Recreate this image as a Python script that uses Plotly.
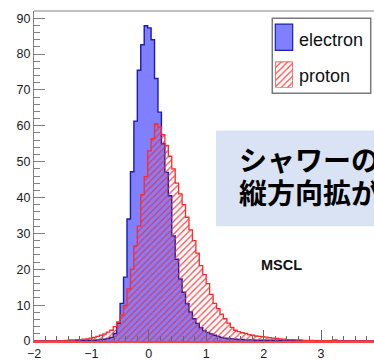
import plotly.graph_objects as go

# Histogram binning: 100 bins of width 0.06 spanning MSCL = -2 .. 4
BIN_LO = -2.0
BIN_W = 0.06

electron = [
    0, 0, 0, 0, 0, 0, 0, 0, 0, 0, 0, 0,
    0.2, 0.2, 0.2, 0.2, 0.2, 0.2, 0.3, 0.4, 0.5, 0.7,
    1.0, 2.1, 4.9, 10.5, 17.8, 34.0, 47.2, 61.3, 75.5, 82.6,
    87.9, 87.3, 84.0, 73.2, 63.8, 55.0, 47.0, 40.5, 29.3, 22.8,
    17.3, 13.6, 10.4, 8.1, 6.2, 4.9, 3.7, 2.9, 2.4, 2.0,
    1.6, 1.3, 1.0, 0.8, 0.7, 0.6, 0.5, 0.4, 0.4, 0.3,
    0.3, 0.3, 0.2, 0.2,
    0.2, 0.2, 0.2, 0.2, 0.2, 0.2, 0.2, 0.2, 0.2, 0.2,
    0.1, 0.1, 0.1, 0.1, 0.1,
    0, 0, 0, 0, 0, 0, 0, 0, 0, 0, 0, 0, 0, 0, 0, 0, 0, 0, 0,
]

proton = [
    0, 0, 0, 0, 0, 0, 0, 0, 0,
    0.2, 0.3, 0.3, 0.3, 0.4, 0.5, 0.6, 0.8, 1.0, 1.3, 1.6,
    2.0, 2.5, 3.0, 4.0, 5.3, 7.2, 9.9, 14.5, 20.0, 26.5,
    32.0, 40.8, 45.8, 53.0, 56.4, 60.5, 59.6, 57.5, 54.5, 51.5,
    48.0, 44.0, 41.0, 38.0, 34.5, 31.0, 28.0, 24.5, 21.0, 18.5,
    16.0, 13.0, 10.5, 9.0, 7.5, 6.2, 5.0, 3.8, 3.0, 2.6,
    2.3, 2.1, 1.8, 1.6, 1.4, 1.3, 1.2, 1.1, 0.9, 0.8,
    0.7, 0.6, 0.5, 0.4, 0.4, 0.3, 0.3, 0.3, 0.2, 0.2, 0.2,
    0.1, 0.1, 0.1, 0.1, 0.1, 0.1, 0.3,
    0, 0, 0, 0, 0, 0, 0, 0, 0, 0, 0, 0,
]

series_names = ["electron", "proton"]
variable_label = "MSCL"
title_lines = ["シャワーの", "縦方向拡がり"]

edges = [BIN_LO + BIN_W * i for i in range(len(electron) + 1)]

# Figure geometry (pixels)
W, H = 374, 361
L, R, T, B = 34, 0, 11, 17
PW, PH = W - L - R, H - T - B


def px(x):
    return (x - L) / PW


def py(y):
    return (H - B - y) / PH


BLUE_FILL = "#7f7fff"
BLUE_LINE = "#1c1cb0"
RED = "#ff2a2a"
HATCH = dict(shape="/", fgcolor="rgba(255,40,40,0.85)", bgcolor="rgba(0,0,0,0)",
             size=4.5, solidity=0.28, fillmode="replace")

fig = go.Figure()

# electron: filled step histogram
fig.add_trace(go.Scatter(
    x=edges, y=electron + [electron[-1]], mode="lines", name=series_names[0],
    line=dict(shape="hv", color=BLUE_LINE, width=1.4),
    fill="tozeroy", fillcolor=BLUE_FILL, showlegend=False, hoverinfo="skip",
))

# proton: hatched step histogram
fig.add_trace(go.Scatter(
    x=edges, y=proton + [proton[-1]], mode="lines", name=series_names[1],
    line=dict(shape="hv", color=RED, width=1.3),
    fill="tozeroy", fillpattern=HATCH, fillcolor="rgba(0,0,0,0)",
    showlegend=False, hoverinfo="skip",
))

# hatched legend swatch lives on its own tiny overlay axes
fig.add_trace(go.Scatter(
    x=[0, 0, 1, 1, 0], y=[0, 1, 1, 0, 0], mode="lines", xaxis="x2", yaxis="y2",
    line=dict(color=RED, width=1.2), fill="toself", fillpattern=HATCH,
    fillcolor="rgba(0,0,0,0)", showlegend=False, hoverinfo="skip",
))

tickfont = dict(family="Liberation Sans, Arial, sans-serif", size=12.5, color="#1a1a1a")

fig.update_layout(
    width=W, height=H,
    margin=dict(l=L, r=R, t=T, b=B, pad=0),
    paper_bgcolor="white", plot_bgcolor="rgba(0,0,0,0)",
    showlegend=False,
    xaxis=dict(
        range=[-2, -2 + PW / 57.4], tick0=0, dtick=1,
        ticks="inside", ticklen=11, tickwidth=1, tickcolor="#666666",
        minor=dict(dtick=0.2, ticks="inside", ticklen=5.5, tickwidth=1, tickcolor="#666666"),
        showline=True, linecolor="#ff4040", linewidth=1.5, mirror=False,
        showgrid=False, zeroline=False, tickfont=tickfont,
    ),
    yaxis=dict(
        range=[0, 92.0], tick0=0, dtick=10,
        ticks="inside", ticklen=11, tickwidth=1, tickcolor="#808080",
        minor=dict(dtick=2, ticks="inside", ticklen=6, tickwidth=1, tickcolor="#808080"),
        showline=True, linecolor="#808080", linewidth=1, mirror=False,
        showgrid=False, zeroline=False, tickfont=tickfont,
    ),
    xaxis2=dict(domain=[px(275.3), px(292.7)], range=[0, 1], anchor="y2", visible=False),
    yaxis2=dict(domain=[py(88.3), py(62.0)], range=[0, 1], anchor="x2", visible=False),
)

shapes = [
    # top frame line
    dict(type="line", xref="paper", yref="paper", x0=0, x1=1.02, y0=1, y1=1,
         line=dict(color="#808080", width=1)),
    # legend box
    dict(type="rect", xref="paper", yref="paper", layer="below",
         x0=px(272.3), x1=px(370.7), y0=py(94.0), y1=py(18.3),
         fillcolor="white", line=dict(color="#7a7a7a", width=1.5)),
    # electron swatch
    dict(type="rect", xref="paper", yref="paper",
         x0=px(275.3), x1=px(292.7), y0=py(50.7), y1=py(24.3),
         fillcolor=BLUE_FILL, line=dict(color=BLUE_LINE, width=1.2)),
    # title box
    dict(type="rect", xref="paper", yref="paper", layer="below",
         x0=px(216.0), x1=1.2, y0=py(228.3), y1=py(131.7),
         fillcolor="#dae3f3", line=dict(width=0)),
]
fig.update_layout(shapes=shapes)

legend_font = dict(family="Liberation Sans, Arial, sans-serif", size=18, color="#111111")
jp_font = dict(family="Noto Sans CJK JP", size=28, color="#000000", weight=700)

annotations = [
    dict(text=series_names[0], x=px(296.5), y=py(40.5), xref="paper", yref="paper",
         xanchor="left", yanchor="middle", showarrow=False, font=legend_font),
    dict(text=series_names[1], x=px(296.5), y=py(77.0), xref="paper", yref="paper",
         xanchor="left", yanchor="middle", showarrow=False, font=legend_font),
    dict(text=title_lines[0], x=px(237.0), y=py(160.0), xref="paper", yref="paper",
         xanchor="left", yanchor="middle", showarrow=False, font=jp_font, height=32),
    dict(text=title_lines[1], x=px(237.0), y=py(194.0), xref="paper", yref="paper",
         xanchor="left", yanchor="middle", showarrow=False, font=jp_font, height=32),
    dict(text="<b>" + variable_label + "</b>", x=px(281.0), y=py(267.0),
         xref="paper", yref="paper", xanchor="center", yanchor="middle",
         showarrow=False,
         font=dict(family="Liberation Sans, Arial, sans-serif", size=14.5, color="#111111")),
]
fig.update_layout(annotations=annotations)

fig.write_html("out.html")
